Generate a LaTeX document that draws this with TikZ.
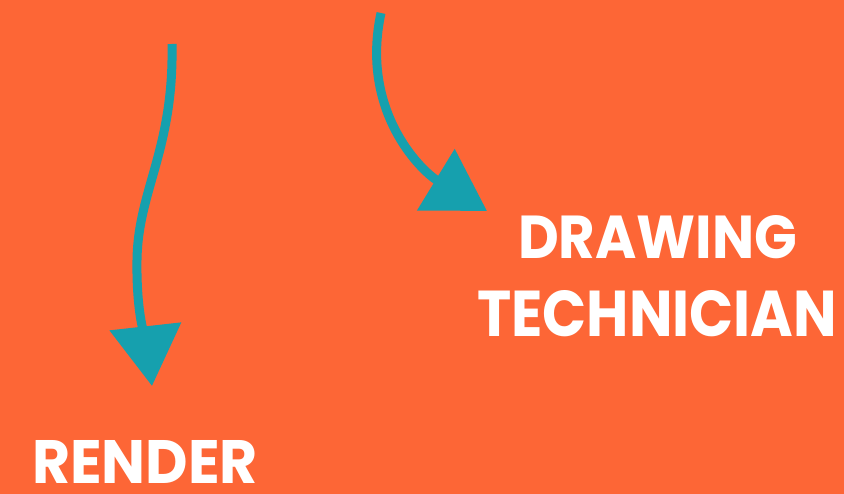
\documentclass[tikz,border=0pt]{standalone}
\usepackage{fontspec}
\setmainfont{Poppins}
\usetikzlibrary{arrows.meta}
\definecolor{bgorange}{HTML}{FD6636}
\definecolor{arrowteal}{HTML}{16A0AE}
\tikzset{
  label text/.style={inner sep=0pt, outer sep=0pt, text=white, font=\bfseries},
  teal arrow/.style={draw=arrowteal, line width=9pt,
    -{Triangle[width=70pt 0, length=60pt 0, fill=arrowteal]}}
}
\begin{document}
\begin{tikzpicture}[x=1pt,y=-1pt]
  \fill[bgorange] (0,0) rectangle (844,494);
  \useasboundingbox (0,0) rectangle (844,494);
  % text nodes
  \node[label text, anchor=south west] (drawing) at (518,259)
    {\resizebox{279pt}{43pt}{DRAWING}};
  \node[label text, anchor=south west] (technician) at (477,337)
    {\resizebox{360pt}{46pt}{TECHNICIAN}};
  \node[label text, anchor=south west] (render) at (32,483)
    {\resizebox{226pt}{43pt}{RENDER}};
  % arrow end points
  \coordinate (lstart) at (172,44);
  \coordinate (ltip) at (152,386);
  \coordinate (rstart) at (381,13);
  \coordinate (rtip) at (487,211);
  \draw[teal arrow] (lstart) .. controls (174,150) and (138,190) .. (137,260)
    .. controls (136,320) and (148,350) .. (ltip);
  \draw[teal arrow] (rstart) .. controls (360,110) and (420,170) .. (rtip);
\end{tikzpicture}
\end{document}
